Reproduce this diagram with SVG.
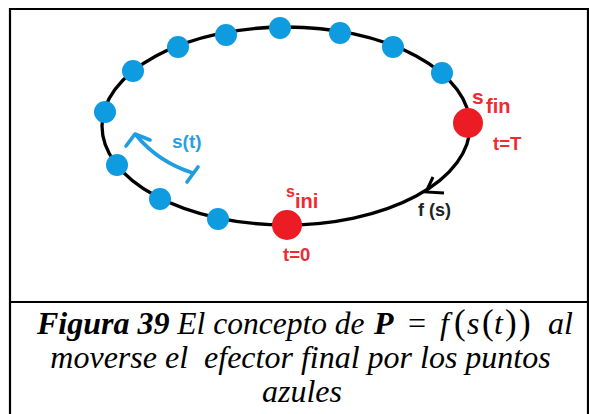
<svg xmlns="http://www.w3.org/2000/svg" width="589" height="414" viewBox="0 0 589 414">
<style>
.frame{fill:none;stroke:#000;stroke-width:2.2}
.path{fill:none;stroke:#000;stroke-width:3.3}
.blue{fill:#0e9be0}
.red{fill:#ec1c24}
.lbl{font-family:"Liberation Sans",Arial,sans-serif;font-weight:bold}
.rl{fill:#ee2a33}
.bl{fill:#2a9fe0}
.cap{font-family:"Liberation Serif","Times New Roman",serif;font-size:32px;font-style:italic;fill:#000}
.up{font-style:normal}
.par{font-style:normal;font-size:35px}
</style>
<g id="frame">
<path class="frame" d="M10,414 V9 H588 V414"/>
<line class="frame" x1="10" y1="302" x2="588" y2="302"/>
</g>
<g id="connectors">
<ellipse class="path" cx="286" cy="126" rx="184" ry="99"/>
<path id="fs-arrow" d="M433,177 L426,192 L444,193" fill="none" stroke="#000" stroke-width="3" stroke-linejoin="miter"/>
<g id="st-arrow" fill="none" stroke="#1e9ee0" stroke-width="3.6" stroke-linecap="round" stroke-linejoin="round">
<path d="M193,173 Q158,162 136,135"/>
<path d="M126,146 L135,134 L150,140"/>
<path d="M198,167 L187,182"/>
</g>
</g>
<g id="node-b1"><circle class="blue" cx="105" cy="112" r="11"/></g>
<g id="node-b2"><circle class="blue" cx="133" cy="71" r="11"/></g>
<g id="node-b3"><circle class="blue" cx="178" cy="47" r="11"/></g>
<g id="node-b4"><circle class="blue" cx="226" cy="35" r="11"/></g>
<g id="node-b5"><circle class="blue" cx="280" cy="28" r="11"/></g>
<g id="node-b6"><circle class="blue" cx="340" cy="33" r="11"/></g>
<g id="node-b7"><circle class="blue" cx="393" cy="47" r="11"/></g>
<g id="node-b8"><circle class="blue" cx="442" cy="73" r="11"/></g>
<g id="node-b9"><circle class="blue" cx="117" cy="165" r="11"/></g>
<g id="node-b10"><circle class="blue" cx="160" cy="199" r="11"/></g>
<g id="node-b11"><circle class="blue" cx="218" cy="219" r="11"/></g>
<g id="node-sfin">
<circle class="red" cx="468" cy="123" r="15"/>
<text class="lbl rl" x="472" y="104" font-size="21">s</text>
<text class="lbl rl" x="486" y="113" font-size="20">fin</text>
<text class="lbl rl" x="493" y="150" font-size="18.5">t=T</text>
</g>
<g id="node-sini">
<circle class="red" cx="287" cy="225" r="15"/>
<text class="lbl rl" x="286" y="197" font-size="16">s</text>
<text class="lbl rl" x="295" y="208" font-size="20">ini</text>
<text class="lbl rl" x="283" y="261" font-size="18.5">t=0</text>
</g>
<text class="lbl bl" x="172" y="148" font-size="19">s(t)</text>
<text class="lbl" x="418" y="216" font-size="18" fill="#222">f (s)</text>
<g id="caption">
<text class="cap" y="334"><tspan x="37" font-weight="bold">Figura 39</tspan><tspan font-size="31.5"> El concepto de</tspan><tspan x="374" font-weight="bold">P</tspan><tspan x="408" class="up">=</tspan><tspan x="440">f</tspan><tspan x="454" class="par">(</tspan><tspan x="467">s</tspan><tspan x="482" class="par">(</tspan><tspan x="494">t</tspan><tspan x="505" class="par">)</tspan><tspan x="519" class="par">)</tspan><tspan x="548">al</tspan></text>
<text class="cap" x="300.5" y="368" text-anchor="middle" xml:space="preserve" style="white-space:pre">moverse el  efector final por los puntos</text>
<text class="cap" x="302" y="402" text-anchor="middle">azules</text>
</g>
</svg>
